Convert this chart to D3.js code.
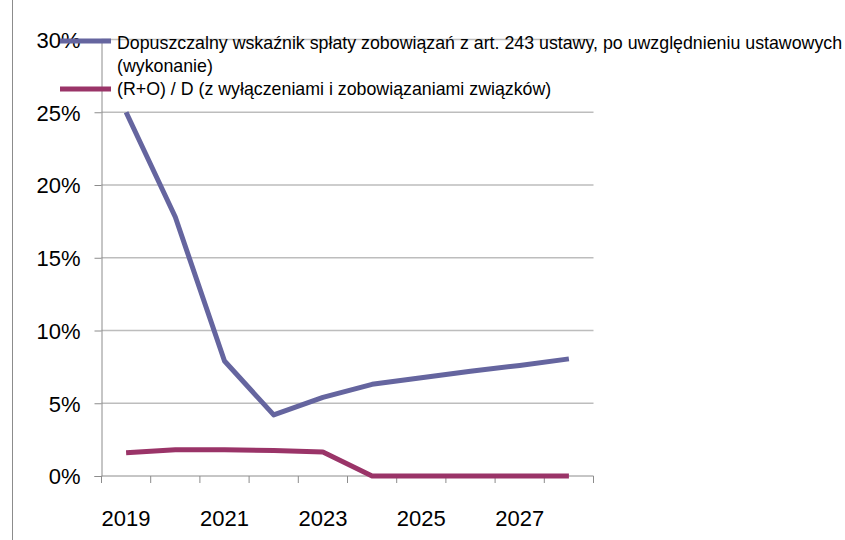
<!DOCTYPE html>
<html>
<head>
<meta charset="utf-8">
<script src="https://cdn.jsdelivr.net/npm/d3@7"></script>
<style>
  body { margin: 0; background: #fff; }
  svg { display: block; font-family: "Liberation Sans", Arial, sans-serif; }
</style>
</head>
<body>
<svg id="chart" width="845" height="540"></svg>
<script>
"use strict";

// categories (years) and the two series, in percent
var years = ["2019", "2020", "2021", "2022", "2023", "2024", "2025", "2026", "2027", "2028"];
var yearLabels = ["2019", "2021", "2023", "2025", "2027"];
var limitRatio = [25.0, 17.8, 7.9, 4.2, 5.4, 6.3, 6.75, 7.2, 7.6, 8.05];
var debtRatio = [1.6, 1.8, 1.8, 1.75, 1.65, 0, 0, 0, 0, 0];
var yTicks = [0, 5, 10, 15, 20, 25, 30];

var seriesNames = [
  ["Dopuszczalny wskaźnik spłaty zobowiązań z art. 243 ustawy, po uwzględnieniu ustawowych", "(wykonanie)"],
  ["(R+O) / D (z wyłączeniami i zobowiązaniami związków)"]
];
var seriesColors = ["#65659f", "#9a3468"];

var svg = d3.select("#chart");
var margin = {left: 101.5, right: 251.5, top: 39.5, bottom: 64};
var width = 845 - margin.left - margin.right,
    height = 540 - margin.top - margin.bottom;

// chart frame edge on the left
svg.append("line")
  .attr("x1", 12.5).attr("x2", 12.5)
  .attr("y1", 0).attr("y2", 540)
  .style("stroke", "#8c8c8c")
  .style("stroke-width", 1);

var g = svg.append("g")
  .attr("transform", "translate(" + margin.left + "," + margin.top + ")");

var x = d3.scaleBand().domain(years).range([0, width]);
var y = d3.scaleLinear().domain([0, 30]).range([height, 0]);

// horizontal gridlines
g.append("g")
  .attr("class", "grid")
  .selectAll("line")
  .data(yTicks.filter(function(d) { return d > 0; }))
  .enter().append("line")
    .attr("x1", 0)
    .attr("x2", width)
    .attr("y1", function(d) { return y(d); })
    .attr("y2", function(d) { return y(d); })
    .style("stroke", "#bdbdbd")
    .style("stroke-width", 1.3);

// y axis
var yAxis = g.append("g")
  .call(d3.axisLeft(y)
    .tickValues(yTicks)
    .tickSize(7)
    .tickPadding(14)
    .tickFormat(function(d) { return d + "%"; }));
yAxis.select(".domain").style("stroke", "#8c8c8c");
yAxis.selectAll(".tick line").style("stroke", "#8c8c8c");
yAxis.selectAll("text")
  .style("font-size", "22px")
  .style("fill", "#000")
  .attr("dy", "0.36em");

// x axis: ticks between categories, labels every second year
var xAxis = g.append("g")
  .attr("transform", "translate(0," + height + ")")
  .call(d3.axisBottom(x).tickSize(0).tickFormat(""));
xAxis.select(".domain").style("stroke", "#8c8c8c").attr("d", "M0,0H" + width);
xAxis.selectAll(".tick").remove();

var bounds = years.map(function(d) { return x(d); }).concat([width]);
xAxis.selectAll(".sep")
  .data(bounds)
  .enter().append("line")
    .attr("class", "sep")
    .attr("x1", function(d) { return d; })
    .attr("x2", function(d) { return d; })
    .attr("y1", 0)
    .attr("y2", 7)
    .style("stroke", "#8c8c8c");

xAxis.selectAll(".lbl")
  .data(yearLabels)
  .enter().append("text")
    .attr("class", "lbl")
    .attr("x", function(d) { return x(d) + x.bandwidth() / 2; })
    .attr("y", 50)
    .attr("text-anchor", "middle")
    .style("font-size", "22px")
    .style("fill", "#000")
    .text(function(d) { return d; });

// series lines
var line = d3.line()
  .x(function(d, i) { return x(years[i]) + x.bandwidth() / 2; })
  .y(function(d) { return y(d); });

[limitRatio, debtRatio].forEach(function(values, i) {
  g.append("path")
    .datum(values)
    .attr("d", line)
    .style("fill", "none")
    .style("stroke", seriesColors[i])
    .style("stroke-width", 5)
    .style("stroke-linejoin", "round");
});

// legend, drawn over the top of the plot
var legend = svg.append("g").attr("class", "legend");
var legendRows = [{swatchY: 41, textY: 49}, {swatchY: 89, textY: 95}];

legendRows.forEach(function(row, i) {
  legend.append("line")
    .attr("x1", 60).attr("x2", 111)
    .attr("y1", row.swatchY).attr("y2", row.swatchY)
    .style("stroke", seriesColors[i])
    .style("stroke-width", 5);
  var txt = legend.append("text")
    .attr("x", 117)
    .attr("y", row.textY)
    .style("font-size", "17.8px")
    .style("fill", "#000");
  seriesNames[i].forEach(function(s, k) {
    txt.append("tspan")
      .attr("x", 117)
      .attr("dy", k === 0 ? 0 : 22.5)
      .text(s);
  });
});
</script>
</body>
</html>
